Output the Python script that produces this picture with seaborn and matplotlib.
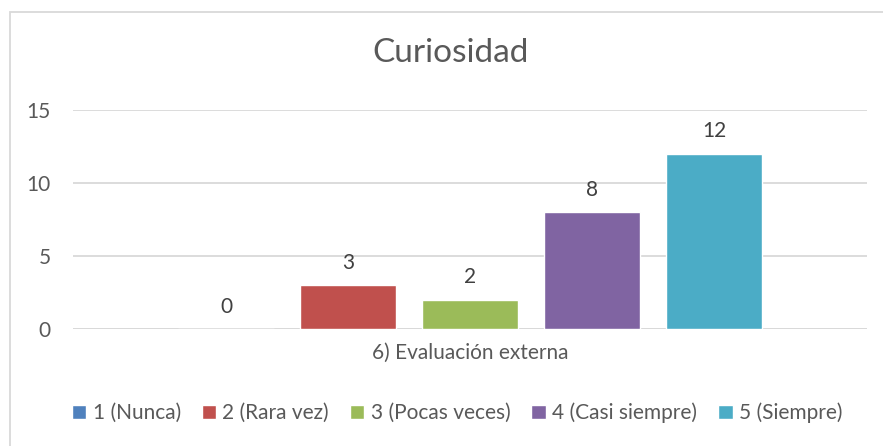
import pandas as pd
import matplotlib.pyplot as plt
import matplotlib.patches as mpatches
import seaborn as sns

# Data
grupo = ["6) Evaluación externa"]
respuestas = ["1 (Nunca)", "2 (Rara vez)", "3 (Pocas veces)", "4 (Casi siempre)", "5 (Siempre)"]
valores = [0, 3, 2, 8, 12]
colores = ["#4F81BD", "#C0504D", "#9BBB59", "#8064A2", "#4BACC6"]

df = pd.DataFrame({
    "grupo": grupo * len(respuestas),
    "respuesta": respuestas,
    "valor": valores,
})

sns.set_theme(style="white")
plt.rcParams["font.family"] = ["Lato", "DejaVu Sans"]

fig = plt.figure(figsize=(8.83, 4.46), dpi=100)
ax = fig.add_axes([0.0827, 0.2623, 0.8993, 0.4911])

sns.barplot(data=df, x="grupo", y="valor", hue="respuesta", hue_order=respuestas,
            palette=colores, width=0.768, gap=0.213, ax=ax, saturation=1)

for c in ax.containers:
    ax.bar_label(c, padding=9, fontsize=15, color="#404040")

ax.set_ylim(0, 15)
ax.set_yticks([0, 5, 10, 15])
ax.set_xlim(-0.5, 0.5)
ax.yaxis.grid(True, color="#D9D9D9", linewidth=1.3)
ax.set_axisbelow(True)
for s in ax.spines.values():
    s.set_visible(False)
ax.axhline(0, color="#D9D9D9", linewidth=1.3, zorder=0)
ax.tick_params(axis="both", length=0, labelsize=15, colors="#595959")
ax.tick_params(axis="y", pad=16)
ax.tick_params(axis="x", pad=10)
ax.set_xlabel("")
ax.set_ylabel("")

handles, labels = ax.get_legend_handles_labels()
ax.get_legend().remove()
fig.legend(handles, labels, loc="center", bbox_to_anchor=(457 / 883, 1 - 413 / 446), ncol=5,
           frameon=False, fontsize=15, handlelength=0.7, handleheight=0.7,
           handletextpad=0.3, columnspacing=1.0, labelcolor="#595959")

fig.text(451 / 883, 1 - 53 / 446, "Curiosidad", ha="center", va="center",
         fontsize=24, color="#595959")

# outer chart border (runs off the right and bottom edges)
fig.patches.append(mpatches.Rectangle((10 / 883, -0.1), 1.2, 1.1 - 12 / 446,
                                      transform=fig.transFigure, fill=False,
                                      edgecolor="#D9D9D9", linewidth=1.3))

fig.savefig("out.png", dpi=100)
